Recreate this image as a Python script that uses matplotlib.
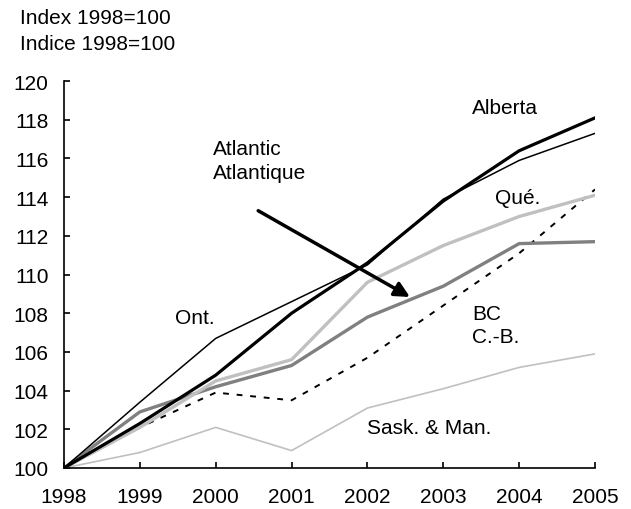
import matplotlib
matplotlib.use("Agg")
import matplotlib.pyplot as plt

plt.rcParams['font.family'] = ['Liberation Sans', 'DejaVu Sans']
FS = 15
plt.rcParams['font.size'] = FS

years = [1998, 1999, 2000, 2001, 2002, 2003, 2004, 2005]
alberta = [100, 102.3, 104.8, 108.0, 110.6, 113.8, 116.4, 118.1]
ontario = [100, 103.4, 106.7, 108.6, 110.5, 113.9, 115.9, 117.3]
quebec = [100, 102.1, 104.5, 105.6, 109.6, 111.5, 113.0, 114.1]
atlantic = [100, 102.9, 104.2, 105.3, 107.8, 109.4, 111.6, 111.7]
bc = [100, 102.1, 103.9, 103.5, 105.7, 108.4, 111.1, 114.4]
sask_man = [100, 100.8, 102.1, 100.9, 103.1, 104.1, 105.2, 105.9]

fig = plt.figure(figsize=(6.31, 5.10), dpi=100)
ax = fig.add_axes([0.1014, 0.0804, 0.8416, 0.7586])

ax.plot(years, sask_man, color='#c0c0c0', lw=1.2)
ax.plot(years, bc, color='black', lw=1.4, ls=(0, (3, 4)))
ax.plot(years, atlantic, color='#808080', lw=2.4)
ax.plot(years, quebec, color='#c0c0c0', lw=2.4)
ax.plot(years, ontario, color='black', lw=1.1)
ax.plot(years, alberta, color='black', lw=2.3)

ax.set_xlim(1998, 2005)
ax.set_ylim(100, 120)
ax.set_xticks(years)
ax.set_yticks(range(100, 121, 2))
ax.tick_params(direction='in', length=4.5, width=1.2, labelsize=FS)
ax.tick_params(axis='x', pad=14)
ax.tick_params(axis='y', pad=11)
for s in ['top', 'right']:
    ax.spines[s].set_visible(False)
for s in ['left', 'bottom']:
    ax.spines[s].set_linewidth(1.2)

ax.annotate('', xy=(2002.56, 108.84), xytext=(2000.56, 113.3),
            arrowprops=dict(arrowstyle='-|>,head_length=0.6,head_width=0.3',
                            color='black', lw=2.5, shrinkA=0, shrinkB=0))

ax.text(1999.96, 115.9, 'Atlantic\nAtlantique', va='center', linespacing=1.3)
ax.text(2003.38, 118.66, 'Alberta', va='center')
ax.text(2003.68, 114.0, 'Qué.', va='center')
ax.text(1999.46, 107.8, 'Ont.', va='center')
ax.text(2003.38, 107.4, 'BC\nC.-B.', va='center', linespacing=1.3)
ax.text(2002.0, 102.07, 'Sask. & Man.', va='center')

fig.text(20 / 631, 1 - 18 / 510, 'Index 1998=100', va='center')
fig.text(20 / 631, 1 - 44 / 510, 'Indice 1998=100', va='center')

fig.savefig('out.png', dpi=100)
